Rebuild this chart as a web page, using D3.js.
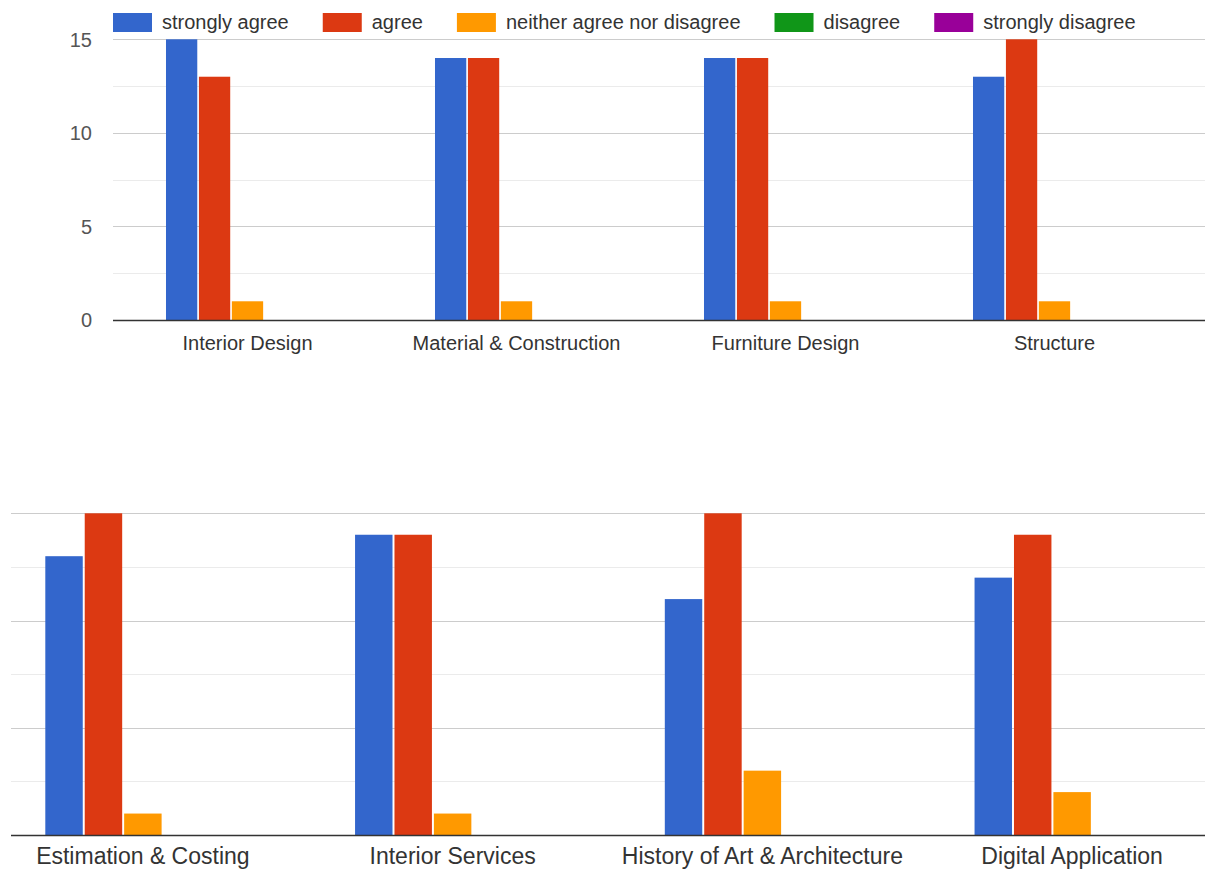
<!DOCTYPE html>
<html>
<head>
<meta charset="utf-8">
<script src="https://cdn.jsdelivr.net/npm/d3@7"></script>
<style>
  html, body { margin: 0; padding: 0; background: #fff; }
  svg { display: block; font-family: "Liberation Sans", Arial, sans-serif; }
</style>
</head>
<body>
<svg id="chart" width="1205" height="876"></svg>
<script>
// ---- data ----
const seriesNames = ["strongly agree", "agree", "neither agree nor disagree", "disagree", "strongly disagree"];
const seriesColors = ["#3366cc", "#dc3912", "#ff9900", "#109618", "#990099"];

const topCategories = ["Interior Design", "Material & Construction", "Furniture Design", "Structure"];
const topStronglyAgree = [15, 14, 14, 13];
const topAgree = [13, 14, 14, 15];
const topNeither = [1, 1, 1, 1];
const topDisagree = [0, 0, 0, 0];
const topStronglyDisagree = [0, 0, 0, 0];

const bottomCategories = ["Estimation & Costing", "Interior Services", "History of Art & Architecture", "Digital Application"];
const bottomStronglyAgree = [13, 14, 11, 12];
const bottomAgree = [15, 14, 15, 14];
const bottomNeither = [1, 1, 3, 2];
const bottomDisagree = [0, 0, 0, 0];
const bottomStronglyDisagree = [0, 0, 0, 0];

const yTickValues = [0, 5, 10, 15];
const yMinorValues = [2.5, 7.5, 12.5];
const yTickLabels = ["0", "5", "10", "15"];

// ---- drawing ----
const svg = d3.select("#chart");

function drawPanel(cfg) {
  const { cats, values, xRange, yRange, gridX, groupFrac, barPad, labelSize, labelBaseline, showYLabels } = cfg;
  const g = svg.append("g");
  const x0 = d3.scaleBand().domain(cats).range(xRange).padding(0);
  const groupW = x0.bandwidth() * groupFrac;
  const x1 = d3.scaleBand().domain(seriesNames).range([-groupW / 2, groupW / 2]).paddingInner(barPad).paddingOuter(0);
  const y = d3.scaleLinear().domain([0, 15]).range(yRange);

  // minor gridlines
  g.selectAll("line.minor").data(yMinorValues).join("line")
    .attr("x1", gridX[0]).attr("x2", gridX[1])
    .attr("y1", d => Math.round(y(d)) + 0.5).attr("y2", d => Math.round(y(d)) + 0.5)
    .attr("stroke", "#ebebeb").attr("stroke-width", 1);
  // major gridlines
  g.selectAll("line.major").data(yTickValues.filter(d => d !== 0)).join("line")
    .attr("x1", gridX[0]).attr("x2", gridX[1])
    .attr("y1", d => Math.round(y(d)) + 0.5).attr("y2", d => Math.round(y(d)) + 0.5)
    .attr("stroke", "#cccccc").attr("stroke-width", 1);

  // y tick labels
  if (showYLabels) {
    g.selectAll("text.ytick").data(yTickValues).join("text")
      .attr("x", 92).attr("y", d => y(d))
      .attr("dy", "0.36em")
      .attr("text-anchor", "end")
      .attr("font-size", 20)
      .attr("fill", "#555")
      .text((d, i) => yTickLabels[i]);
  }

  // bars
  const groups = g.selectAll("g.cat").data(cats).join("g")
    .attr("transform", d => `translate(${x0(d) + x0.bandwidth() / 2},0)`);
  groups.selectAll("rect").data((c, ci) => seriesNames.map((s, si) => ({ s, si, v: values[si][ci] })))
    .join("rect")
    .attr("x", d => x1(d.s))
    .attr("width", x1.bandwidth())
    .attr("y", d => y(d.v))
    .attr("height", d => y(0) - y(d.v))
    .attr("fill", d => seriesColors[d.si]);

  // baseline
  g.append("line")
    .attr("x1", gridX[0]).attr("x2", gridX[1])
    .attr("y1", Math.round(y(0)) + 0.5).attr("y2", Math.round(y(0)) + 0.5)
    .attr("stroke", "#333").attr("stroke-width", 1.5);

  // category labels
  g.selectAll("text.cat").data(cats).join("text")
    .attr("x", d => x0(d) + x0.bandwidth() / 2)
    .attr("y", labelBaseline)
    .attr("text-anchor", "middle")
    .attr("font-size", labelSize)
    .attr("fill", "#333")
    .text(d => d);
}

drawPanel({
  cats: topCategories,
  values: [topStronglyAgree, topAgree, topNeither, topDisagree, topStronglyDisagree],
  xRange: [113, 1189], yRange: [320, 39.3], gridX: [113, 1205],
  groupFrac: 0.606, barPad: 0.05, labelSize: 20, labelBaseline: 350, showYLabels: true
});

drawPanel({
  cats: bottomCategories,
  values: [bottomStronglyAgree, bottomAgree, bottomNeither, bottomDisagree, bottomStronglyDisagree],
  xRange: [-12, 1227], yRange: [835, 513.3], gridX: [11, 1205],
  groupFrac: 0.63, barPad: 0.05, labelSize: 23, labelBaseline: 864, showYLabels: false
});

// legend
const legend = svg.append("g");
let lx = 113;
seriesNames.forEach((name, i) => {
  legend.append("rect")
    .attr("x", lx).attr("y", 13).attr("width", 39).attr("height", 19)
    .attr("fill", seriesColors[i]);
  const t = legend.append("text")
    .attr("x", lx + 49).attr("y", 29)
    .attr("font-size", 20).attr("fill", "#333")
    .text(name);
  lx += 49 + t.node().getComputedTextLength() + 34;
});
</script>
</body>
</html>
